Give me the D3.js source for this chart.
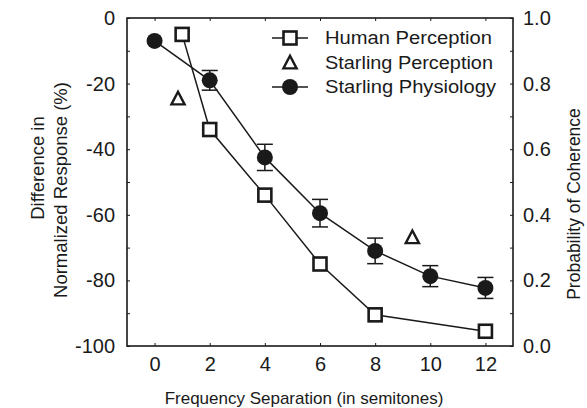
<!DOCTYPE html>
<html><head><meta charset="utf-8">
<script src="https://cdn.jsdelivr.net/npm/d3@7"></script>
<style>body{margin:0;background:#fff}svg{display:block}</style>
</head><body><svg id="c" width="587" height="408"></svg>
<script>
const xTicks = [0, 2, 4, 6, 8, 10, 12];
const yTicks = [0, -20, -40, -60, -80, -100];
const yRightTicks = [0, 0.2, 0.4, 0.6, 0.8, 1.0];

const humanX = [1, 2, 4, 6, 8, 12];
const humanY = [-5, -34, -54, -75, -90.5, -95.5];

const starPercX = [0.85, 9.35];
const starPercY = [-24.7, -67];

const starPhysX = [0, 2, 4, 6, 8, 10, 12];
const starPhysY = [-7, -19, -42.5, -59.5, -71, -78.7, -82.3];
const starPhysErr = [0, 3, 4, 4.2, 3.9, 3.2, 3.2];

const legendLabels = ["Human Perception", "Starling Perception", "Starling Physiology"];

const svg = d3.select("#c");
const L = 127, R = 513, T = 18, B = 346;
const x = d3.scaleLinear().domain([-1, 13]).range([L, R]);
const y = d3.scaleLinear().domain([-100, 0]).range([B, T]);
const y2 = d3.scaleLinear().domain([0, 1]).range([B, T]);
const font = "Arial, 'Liberation Sans', sans-serif";
const ink = "#1a1a1a";

// frame
svg.append("rect").attr("x", L).attr("y", T).attr("width", R - L).attr("height", B - T)
  .attr("fill", "none").attr("stroke", ink).attr("stroke-width", 1.6);

// axes (inward ticks)
const gB = svg.append("g").attr("transform", `translate(0,${B})`)
  .call(d3.axisBottom(x).tickValues(xTicks).tickSize(-3).tickPadding(11).tickFormat(d => String(d)));
const gT = svg.append("g").attr("transform", `translate(0,${T})`)
  .call(d3.axisTop(x).tickValues(xTicks).tickSize(-3).tickFormat(""));
const gL = svg.append("g").attr("transform", `translate(${L},0)`)
  .call(d3.axisLeft(y).tickValues(d3.range(-100, 1, 10)).tickSize(-3).tickPadding(12)
    .tickFormat(d => yTicks.includes(d) ? String(d) : ""));
const gR = svg.append("g").attr("transform", `translate(${R},0)`)
  .call(d3.axisRight(y2).tickValues(d3.range(0, 1.001, 0.1).map(v => +v.toFixed(1))).tickSize(-3).tickPadding(10)
    .tickFormat(d => yRightTicks.some(t => Math.abs(t - d) < 1e-9) ? d3.format(".1f")(d) : ""));
[gB, gT, gL, gR].forEach(g => {
  g.select(".domain").remove();
  g.selectAll(".tick line").attr("stroke", ink).attr("stroke-width", 1);
  g.selectAll("text").attr("font-family", font).attr("font-size", 20).attr("fill", ink);
});

// axis titles
svg.append("text").attr("x", 304).attr("y", 404).attr("text-anchor", "middle")
  .attr("font-family", font).attr("font-size", 17).attr("fill", ink)
  .text("Frequency Separation (in semitones)");
svg.append("text").attr("transform", "translate(44,168) rotate(-90)").attr("text-anchor", "middle")
  .attr("font-family", font).attr("font-size", 18.5).attr("fill", ink).text("Difference in");
svg.append("text").attr("transform", "translate(67,190) rotate(-90)").attr("text-anchor", "middle")
  .attr("font-family", font).attr("font-size", 18.5).attr("fill", ink).text("Normalized Response (%)");
svg.append("text").attr("transform", "translate(580,204) rotate(-90)").attr("text-anchor", "middle")
  .attr("font-family", font).attr("font-size", 17.5).attr("fill", ink).text("Probability of Coherence");

const line = d3.line().x(d => x(d[0])).y(d => y(d[1]));
const human = humanX.map((v, i) => [v, humanY[i]]);
const phys = starPhysX.map((v, i) => [v, starPhysY[i]]);
const perc = starPercX.map((v, i) => [v, starPercY[i]]);

svg.append("path").datum(phys).attr("d", line).attr("fill", "none").attr("stroke", ink).attr("stroke-width", 1.5);
svg.append("path").datum(human).attr("d", line).attr("fill", "none").attr("stroke", ink).attr("stroke-width", 1.5);

// error bars
const eg = svg.append("g").attr("stroke", ink).attr("stroke-width", 1.5);
phys.forEach((d, i) => {
  const e = starPhysErr[i];
  if (!e) return;
  const cx = x(d[0]);
  eg.append("line").attr("x1", cx).attr("x2", cx).attr("y1", y(d[1] + e)).attr("y2", y(d[1] - e));
  eg.append("line").attr("x1", cx - 8).attr("x2", cx + 8).attr("y1", y(d[1] + e)).attr("y2", y(d[1] + e));
  eg.append("line").attr("x1", cx - 8).attr("x2", cx + 8).attr("y1", y(d[1] - e)).attr("y2", y(d[1] - e));
});

// markers
svg.selectAll("circle.p").data(phys).enter().append("circle")
  .attr("cx", d => x(d[0])).attr("cy", d => y(d[1])).attr("r", 8).attr("fill", ink);
const sq = 13;
svg.selectAll("rect.h").data(human).enter().append("rect")
  .attr("x", d => x(d[0]) - sq / 2).attr("y", d => y(d[1]) - sq / 2).attr("width", sq).attr("height", sq)
  .attr("fill", "#fff").attr("stroke", ink).attr("stroke-width", 2.6);
const tri = (cx, cy, s) => `M${cx},${cy - s * 0.6}L${cx + s * 0.55},${cy + s * 0.45}L${cx - s * 0.55},${cy + s * 0.45}Z`;
svg.selectAll("path.t").data(perc).enter().append("path")
  .attr("d", d => tri(x(d[0]), y(d[1]), 12)).attr("fill", "#fff").attr("stroke", ink).attr("stroke-width", 2.4);

// legend
const lgX = 290, lgY = [38, 63, 87];
const lgLen = [167, 168, 171];
legendLabels.forEach((lab, i) => {
  const cy = lgY[i];
  if (i !== 1) svg.append("line").attr("x1", lgX - 18).attr("x2", lgX + 18).attr("y1", cy).attr("y2", cy)
    .attr("stroke", ink).attr("stroke-width", 1.5);
  if (i === 0) svg.append("rect").attr("x", lgX - sq / 2).attr("y", cy - sq / 2).attr("width", sq).attr("height", sq)
    .attr("fill", "#fff").attr("stroke", ink).attr("stroke-width", 2.6);
  if (i === 1) svg.append("path").attr("d", tri(lgX, cy, 12)).attr("fill", "#fff").attr("stroke", ink).attr("stroke-width", 2.4);
  if (i === 2) svg.append("circle").attr("cx", lgX).attr("cy", cy).attr("r", 8).attr("fill", ink);
  svg.append("text").attr("x", 325).attr("y", cy + 6).attr("font-family", font).attr("font-size", 17.5)
    .attr("textLength", lgLen[i]).attr("lengthAdjust", "spacingAndGlyphs")
    .attr("fill", ink).text(lab);
});
</script></body></html>
